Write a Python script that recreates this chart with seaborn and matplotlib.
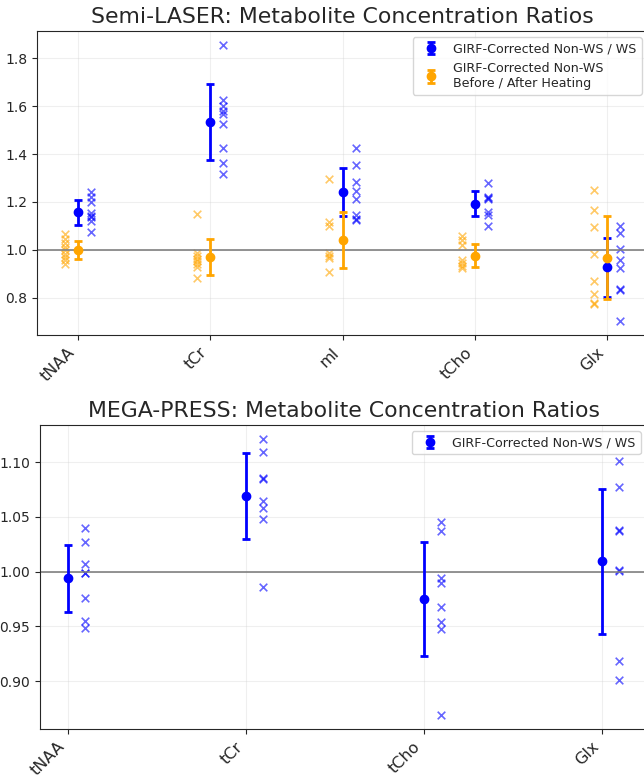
import numpy as np
import pandas as pd
import matplotlib
matplotlib.use("Agg")
import matplotlib.pyplot as plt
import seaborn as sns

# --- Semi-LASER (top panel) ---
sl_metabolites = ["tNAA", "tCr", "mI", "tCho", "Glx"]
sl_ws_mean = [1.156, 1.535, 1.242, 1.193, 0.926]
sl_ws_err = [0.052, 0.160, 0.100, 0.054, 0.124]
sl_heat_mean = [0.999, 0.969, 1.040, 0.975, 0.967]
sl_heat_err = [0.037, 0.074, 0.118, 0.049, 0.174]

sl_ws_points = {
    "tNAA": [1.243, 1.222, 1.200, 1.153, 1.143, 1.135, 1.118, 1.075],
    "tCr": [1.857, 1.625, 1.601, 1.581, 1.568, 1.526, 1.426, 1.363, 1.317],
    "mI": [1.424, 1.354, 1.282, 1.244, 1.210, 1.144, 1.130, 1.126],
    "tCho": [1.278, 1.219, 1.215, 1.210, 1.156, 1.146, 1.099],
    "Glx": [1.099, 1.068, 1.001, 0.956, 0.922, 0.835, 0.833, 0.701],
}
sl_heat_points = {
    "tNAA": [1.065, 1.046, 1.029, 1.013, 0.999, 0.983, 0.969, 0.955, 0.942],
    "tCr": [1.150, 0.987, 0.974, 0.963, 0.952, 0.942, 0.928, 0.880],
    "mI": [1.294, 1.115, 1.099, 0.988, 0.974, 0.966, 0.906],
    "tCho": [1.058, 1.039, 1.018, 0.956, 0.946, 0.933, 0.922],
    "Glx": [1.251, 1.164, 1.096, 0.983, 0.869, 0.814, 0.779, 0.774],
}

# --- MEGA-PRESS (bottom panel) ---
mp_metabolites = ["tNAA", "tCr", "tCho", "Glx"]
mp_ws_mean = [0.9938, 1.0693, 0.9750, 1.0093]
mp_ws_err = [0.0305, 0.0392, 0.0523, 0.0659]
mp_ws_points = {
    "tNAA": [1.0399, 1.0268, 1.0065, 0.9990, 0.9983, 0.9762, 0.9546, 0.9482],
    "tCr": [1.1212, 1.1094, 1.0857, 1.0845, 1.0645, 1.0584, 1.0484, 0.9856],
    "tCho": [1.0454, 1.0372, 0.9941, 0.9892, 0.9677, 0.9537, 0.9473, 0.8687],
    "Glx": [1.1012, 1.0772, 1.0378, 1.0372, 1.0011, 1.0005, 0.9188, 0.9012],
}

BLUE = "blue"
ORANGE = "orange"


def points_frame(points, metabolites, offset):
    rows = []
    for i, m in enumerate(metabolites):
        for v in points[m]:
            rows.append({"x": i + offset, "y": v})
    return pd.DataFrame(rows)


def draw_panel(ax, metabolites, series, title):
    for s in series:
        df = points_frame(s["points"], metabolites, s["offset"])
        sns.scatterplot(data=df, x="x", y="y", marker="x", color=s["color"],
                        alpha=0.6, s=30, linewidth=1.2, ax=ax, legend=False)
        ax.errorbar(np.arange(len(metabolites)), s["mean"], yerr=s["err"],
                    fmt="o", color=s["color"], markersize=6, elinewidth=2,
                    capsize=3, capthick=2, label=s["label"], zorder=3)
    ax.axhline(1.0, color="gray", linewidth=1.2, zorder=1)
    ax.set_xticks(np.arange(len(metabolites)))
    ax.set_xticklabels(metabolites, rotation=45, ha="right", fontsize=11.5)
    ax.tick_params(axis="y", labelsize=10)
    ax.set_xlabel("")
    ax.set_ylabel("")
    ax.grid(True, alpha=0.3)
    ax.set_title(title, fontsize=15.8)
    ax.legend(loc="upper right", fontsize=9.1)


sns.set_style("ticks")
plt.rcParams["font.family"] = ["DejaVu Sans"]

fig = plt.figure(figsize=(6.44, 7.75), dpi=100)
ax1 = fig.add_axes([37 / 644, 440 / 775, 611 / 644, 304 / 775])
ax2 = fig.add_axes([40 / 644, 45.7 / 775, 607 / 644, 304.3 / 775])

draw_panel(ax1, sl_metabolites, [
    {"points": sl_ws_points, "mean": sl_ws_mean, "err": sl_ws_err, "offset": 0.1,
     "color": BLUE, "label": "GIRF-Corrected Non-WS / WS"},
    {"points": sl_heat_points, "mean": sl_heat_mean, "err": sl_heat_err, "offset": -0.1,
     "color": ORANGE, "label": "GIRF-Corrected Non-WS\nBefore / After Heating"},
], "Semi-LASER: Metabolite Concentration Ratios")

draw_panel(ax2, mp_metabolites, [
    {"points": mp_ws_points, "mean": mp_ws_mean, "err": mp_ws_err, "offset": 0.1,
     "color": BLUE, "label": "GIRF-Corrected Non-WS / WS"},
], "MEGA-PRESS: Metabolite Concentration Ratios")

fig.savefig("out.png", dpi=100)
